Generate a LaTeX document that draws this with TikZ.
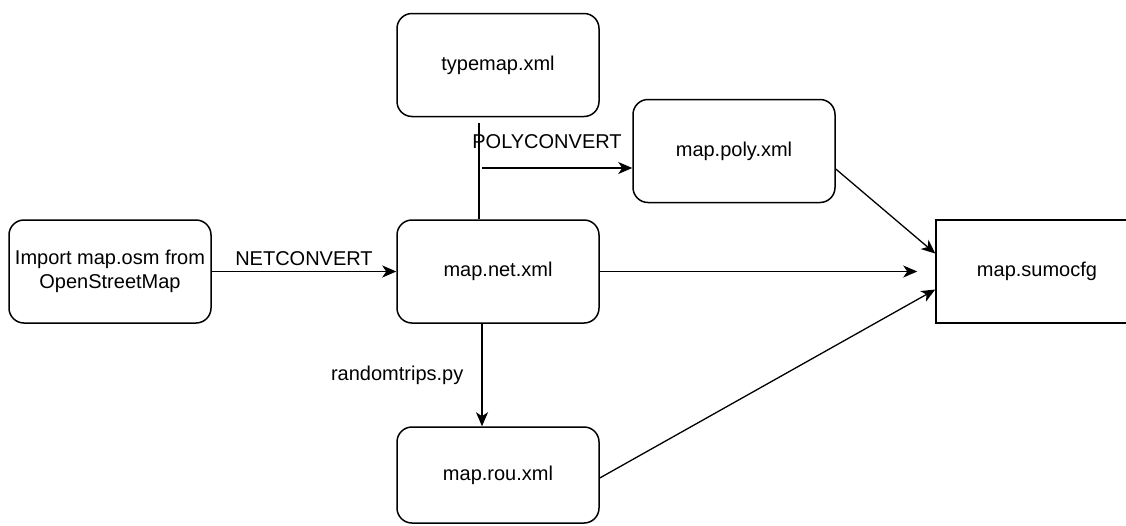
\documentclass[tikz,border=0pt]{standalone}
\usepackage{fontspec}
\setmainfont{Liberation Sans}
\usetikzlibrary{arrows.meta,positioning}
\tikzset{
	box/.style={draw, line width=1.5pt, rounded corners=15pt, minimum width=202pt, minimum height=103pt, align=center, inner sep=0pt, font=\fontsize{20}{24}\selectfont},
	lbl/.style={inner sep=0pt, font=\fontsize{20}{24}\selectfont},
	conn/.style={line width=1.3pt, -{Stealth[length=14pt, width=12pt, inset=4pt]}}
}
\begin{document}
\begin{tikzpicture}[x=1pt, y=-1pt]
		\useasboundingbox (0,0) rectangle (1126,525);
		\node(imp)[box] at (110,271.5){Import map.osm from\\OpenStreetMap};
		\node(typemap)[box] at (498,65){typemap.xml};
		\node(poly)[box] at (734,151){map.poly.xml};
		\node(net)[box] at (498,271.5){map.net.xml};
		\node(sumo)[box, rounded corners=0pt] at (1037,271.5){map.sumocfg};
		\node(rou)[box, minimum height=96pt] at (498,475){map.rou.xml};

		\coordinate(tap) at ([xshift=-19pt, yshift=-6pt]typemap.south);
		\coordinate(split) at (482,168);

		\draw[conn, line width=0.8pt] (imp) -- (net) node[lbl, midway, above=5pt]{NETCONVERT};
		\draw[line width=1.3pt] (tap) -- (tap |- net.north);
		\draw[conn] (split) -- (split -| poly.west);
		\node(polylbl)[lbl] at (547,142){POLYCONVERT};
		\draw[conn, shorten >=18pt] (net) -- (net -| sumo.west);
		\draw[conn] ([yshift=-18pt]poly.east) -- ([yshift=18pt]sumo.west);
		\draw[conn] ([yshift=-3pt]rou.east) -- ([yshift=-18pt]sumo.west);
		\draw[conn] ([xshift=-16pt]net.south) -- ([xshift=-16pt]rou.north) node[lbl, midway, left=18pt]{randomtrips.py};
	\end{tikzpicture}
\end{document}
